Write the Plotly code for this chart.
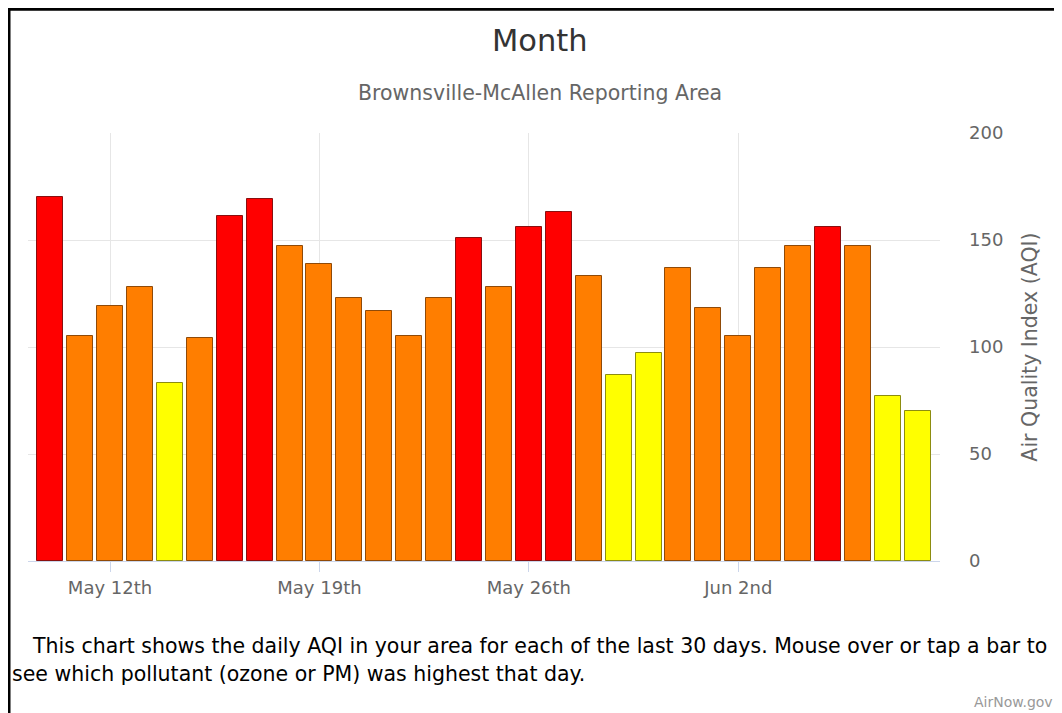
import pandas as pd
import plotly.graph_objects as go

# ---- data ----
dates = pd.date_range("2023-05-10", periods=30, freq="D")
aqi = [170, 105, 119, 128, 83, 104, 161, 169, 147, 139,
       123, 117, 105, 123, 151, 128, 156, 163, 133, 87,
       97, 137, 118, 105, 137, 147, 156, 147, 77, 70]
tick_dates = ["2023-05-12", "2023-05-19", "2023-05-26", "2023-06-02"]
tick_labels = ["May 12th", "May 19th", "May 26th", "Jun 2nd"]
y_ticks = [0, 50, 100, 150, 200]

title_text = "Month"
subtitle_text = "Brownsville-McAllen Reporting Area"
caption_1 = "This chart shows the daily AQI in your area for each of the last 30 days. Mouse over or tap a bar to"
caption_2 = "see which pollutant (ozone or PM) was highest that day."
credit_text = "AirNow.gov"

# ---- style helpers ----
def fill_for(v):
    if v > 150:
        return "#ff0000"
    if v > 100:
        return "#ff7e00"
    return "#ffff00"

def edge_for(v):
    if v > 150:
        return "#8a0f0f"
    if v > 100:
        return "#8f4a08"
    return "#8c8c10"

OFF = 8                 # page body margin
W, H = 1062 - OFF, 713 - OFF
L, R = 28 - OFF, 940 - OFF          # plot area pixel edges (figure coords)
T, B = 133 - OFF, 561.5 - OFF

def px(xp):  # page pixel -> paper
    return (xp - OFF - L) / (R - L)

def py(yp):
    return (B - (yp - OFF)) / (B - T)

FONT = "DejaVu Sans"
day_ms = 86400000
pad = pd.Timedelta(hours=17.8)

fig = go.Figure(go.Bar(
    x=dates, y=aqi,
    width=0.87 * day_ms,
    marker=dict(color=[fill_for(v) for v in aqi],
                line=dict(color=[edge_for(v) for v in aqi], width=1)),
    hoverinfo="x+y",
))

fig.update_layout(
    width=W, height=H,
    margin=dict(l=L, r=W - R, t=T, b=H - B, pad=0),
    paper_bgcolor="white", plot_bgcolor="white",
    showlegend=False,
    font=dict(family=FONT, color="#666666"),
    xaxis=dict(
        type="date",
        range=[dates[0] - pad, dates[-1] + pad],
        tickvals=tick_dates, ticktext=tick_labels,
        tickfont=dict(size=18, color="#666666", family=FONT),
        showgrid=True, gridcolor="#e6e6e6", gridwidth=1,
        showline=True, linecolor="#ccd6eb", linewidth=1,
        ticks="outside", ticklen=10, tickcolor="#ccd6eb",
        zeroline=False, fixedrange=True,
    ),
    yaxis=dict(
        side="right",
        range=[0, 200],
        tickvals=y_ticks,
        tickfont=dict(size=18, color="#666666", family=FONT),
        showgrid=True, gridcolor="#e6e6e6", gridwidth=1,
        zeroline=False, showline=False,
        ticklabelstandoff=28,
        title=dict(text="Air Quality Index (AQI)",
                   font=dict(size=20.5, color="#666666", family=FONT),
                   standoff=20),
        fixedrange=True,
    ),
    bargap=0,
)

annos = [
    dict(text=title_text, x=px(540), y=py(40), font=dict(size=30.5, color="#333333", family=FONT),
         xanchor="center", yanchor="middle"),
    dict(text=subtitle_text, x=px(540), y=py(93), font=dict(size=20.5, color="#666666", family=FONT),
         xanchor="center", yanchor="middle"),
    dict(text=caption_1, x=px(30), y=py(647), font=dict(size=20.5, color="#000000", family=FONT),
         xanchor="left", yanchor="middle"),
    dict(text=caption_2, x=px(10), y=py(675), font=dict(size=20.5, color="#000000", family=FONT),
         xanchor="left", yanchor="middle"),
    dict(text=credit_text, x=px(1055), y=py(703), font=dict(size=14, color="#999999", family=FONT),
         xanchor="right", yanchor="middle"),
]
for a in annos:
    a.update(xref="paper", yref="paper", showarrow=False)
fig.update_layout(annotations=annos)

fig.add_shape(type="rect", xref="paper", yref="paper",
              x0=px(9), x1=px(1090), y0=py(740), y1=py(9),
              line=dict(color="black", width=3), fillcolor="rgba(0,0,0,0)", layer="above")

fig.write_html("out.html", config={"displayModeBar": False})
